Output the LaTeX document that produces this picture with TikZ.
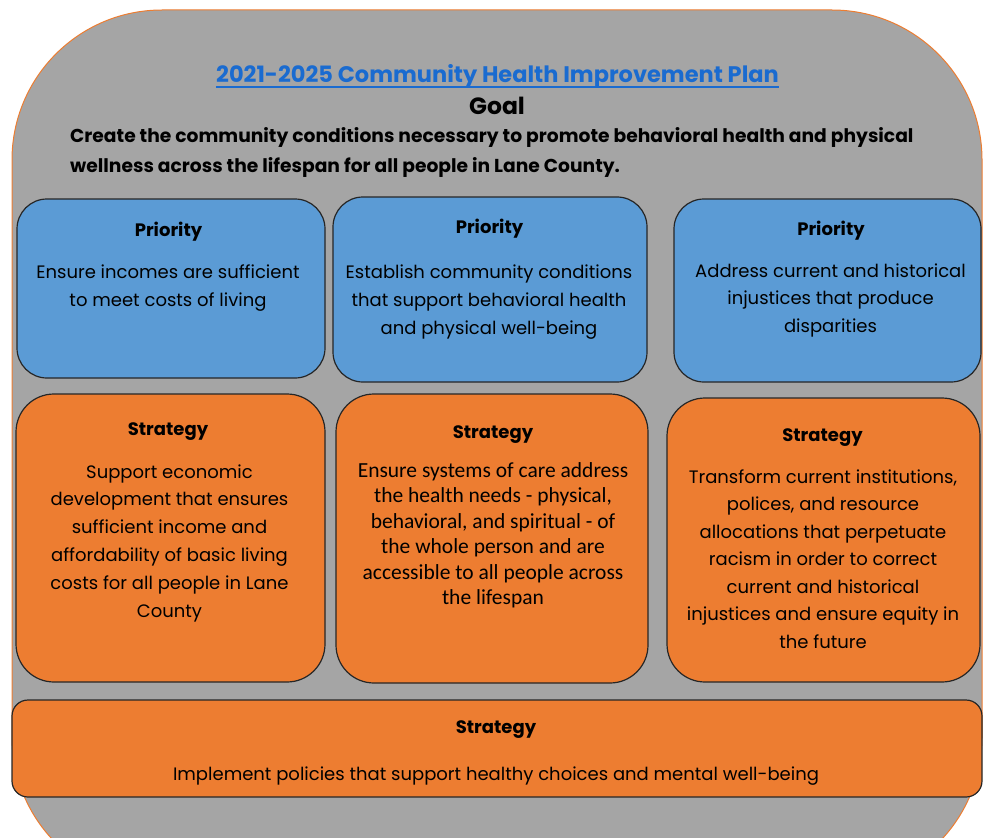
\documentclass[tikz,border=0pt]{standalone}
\usepackage{fontspec}
\setmainfont{Poppins}
\newfontfamily\calib{Carlito}
\definecolor{bggray}{HTML}{A5A5A5}
\definecolor{pblue}{HTML}{5B9BD5}
\definecolor{sorange}{HTML}{ED7D31}
\definecolor{tblue}{HTML}{1A6BD0}
\definecolor{edgecol}{HTML}{262626}
\tikzset{
  box/.style={draw=edgecol, line width=1.2pt, rectangle, inner sep=0pt},
  pbox/.style={box, fill=pblue, rounded corners=30pt},
  sbox/.style={box, fill=sorange, rounded corners=38pt},
  hdr/.style={font=\fontsize{18}{20}\selectfont\bfseries, inner sep=0pt, anchor=base},
  body/.style={font=\fontsize{18}{20}\selectfont, inner sep=0pt, anchor=base},
  cbody/.style={font=\calib\fontsize{21.5}{22}\selectfont, inner sep=0pt, anchor=base},
}
\begin{document}
\begin{tikzpicture}[x=1pt,y=-1pt]
\useasboundingbox (0,0) rectangle (984,837);
\clip (0,0) rectangle (984,837);
% outer frame
\node[draw=sorange, fill=bggray, line width=1pt, rectangle, rounded corners=150pt,
      minimum width=970pt, minimum height=877pt, inner sep=0pt] (frame) at (497,448.5) {};
% title
\node[font=\fontsize{22.5}{26}\selectfont\bfseries, text=tblue, inner sep=0pt, anchor=base] (title) at (497.5,83) {2021-2025 Community Health Improvement Plan};
\draw[tblue, line width=1.4pt] ([yshift=-4pt]title.base west) -- ([yshift=-4pt]title.base east);
\node[font=\fontsize{23.5}{26}\selectfont\bfseries, inner sep=0pt, anchor=base] (goal) at (497,115) {Goal};
\node[font=\fontsize{18.7}{22}\selectfont\bfseries, inner sep=0pt, anchor=base west] (goal1) at (70,143) {Create the community conditions necessary to promote behavioral health and physical};
\node[font=\fontsize{18.7}{22}\selectfont\bfseries, inner sep=0pt, anchor=base west] (goal2) at (70,172) {wellness across the lifespan for all people in Lane County.};

% priority boxes
\node[pbox, minimum width=308pt, minimum height=179pt] (p1) at (171,288.5) {};
\node[pbox, minimum width=314pt, minimum height=185pt] (p2) at (490,289.5) {};
\node[pbox, minimum width=307pt, minimum height=183pt] (p3) at (827.5,290.5) {};
% strategy boxes
\node[sbox, minimum width=309pt, minimum height=288pt] (s1) at (170.5,538) {};
\node[sbox, minimum width=312pt, minimum height=289pt] (s2) at (492,538.5) {};
\node[sbox, minimum width=313pt, minimum height=284pt] (s3) at (823.5,540) {};
\node[box, fill=sorange, rounded corners=16pt, minimum width=970pt, minimum height=97pt] (sb) at (497,748.5) {};

% priority texts
\node[hdr] (p1h) at (168.5,236) {Priority};
\foreach \t [count=\i] in {Ensure incomes are sufficient, to meet costs of living}
  \node[body] (p1l\i) at (168,{278+(\i-1)*28.5}) {\t};
\node[hdr] (p2h) at (489.5,233) {Priority};
\foreach \t [count=\i] in {Establish community conditions, that support behavioral health, and physical well-being}
  \node[body] (p2l\i) at (489,{278+(\i-1)*28}) {\t};
\node[hdr] (p3h) at (831,235) {Priority};
\foreach \t [count=\i] in {Address current and historical, injustices that produce, disparities}
  \node[body] (p3l\i) at (830.5,{277+(\i-1)*27.5}) {\t};

% strategy texts
\node[hdr] (s1h) at (168,435) {Strategy};
\foreach \t [count=\i] in {Support economic, development that ensures, sufficient income and, affordability of basic living, costs for all people in Lane, County}
  \node[body] (s1l\i) at (169.5,{478+(\i-1)*27.8}) {\t};
\node[hdr] (s2h) at (493,438) {Strategy};
\foreach \t [count=\i] in {Ensure systems of care address, {the health needs - physical,}, {behavioral, and spiritual - of}, the whole person and are, accessible to all people across, the lifespan}
  \node[cbody] (s2l\i) at (493,{477+(\i-1)*25.5}) {\t};
\node[hdr] (s3h) at (822.5,441) {Strategy};
\foreach \t [count=\i] in {{Transform current institutions,}, {polices, and resource}, allocations that perpetuate, racism in order to correct, current and historical, injustices and ensure equity in, the future}
  \node[body] (s3l\i) at (823,{483+(\i-1)*27.5}) {\t};

\node[hdr] (sbh) at (496,733) {Strategy};
\node[body] (sbl) at (496,780) {Implement policies that support healthy choices and mental well-being};
\end{tikzpicture}
\end{document}
